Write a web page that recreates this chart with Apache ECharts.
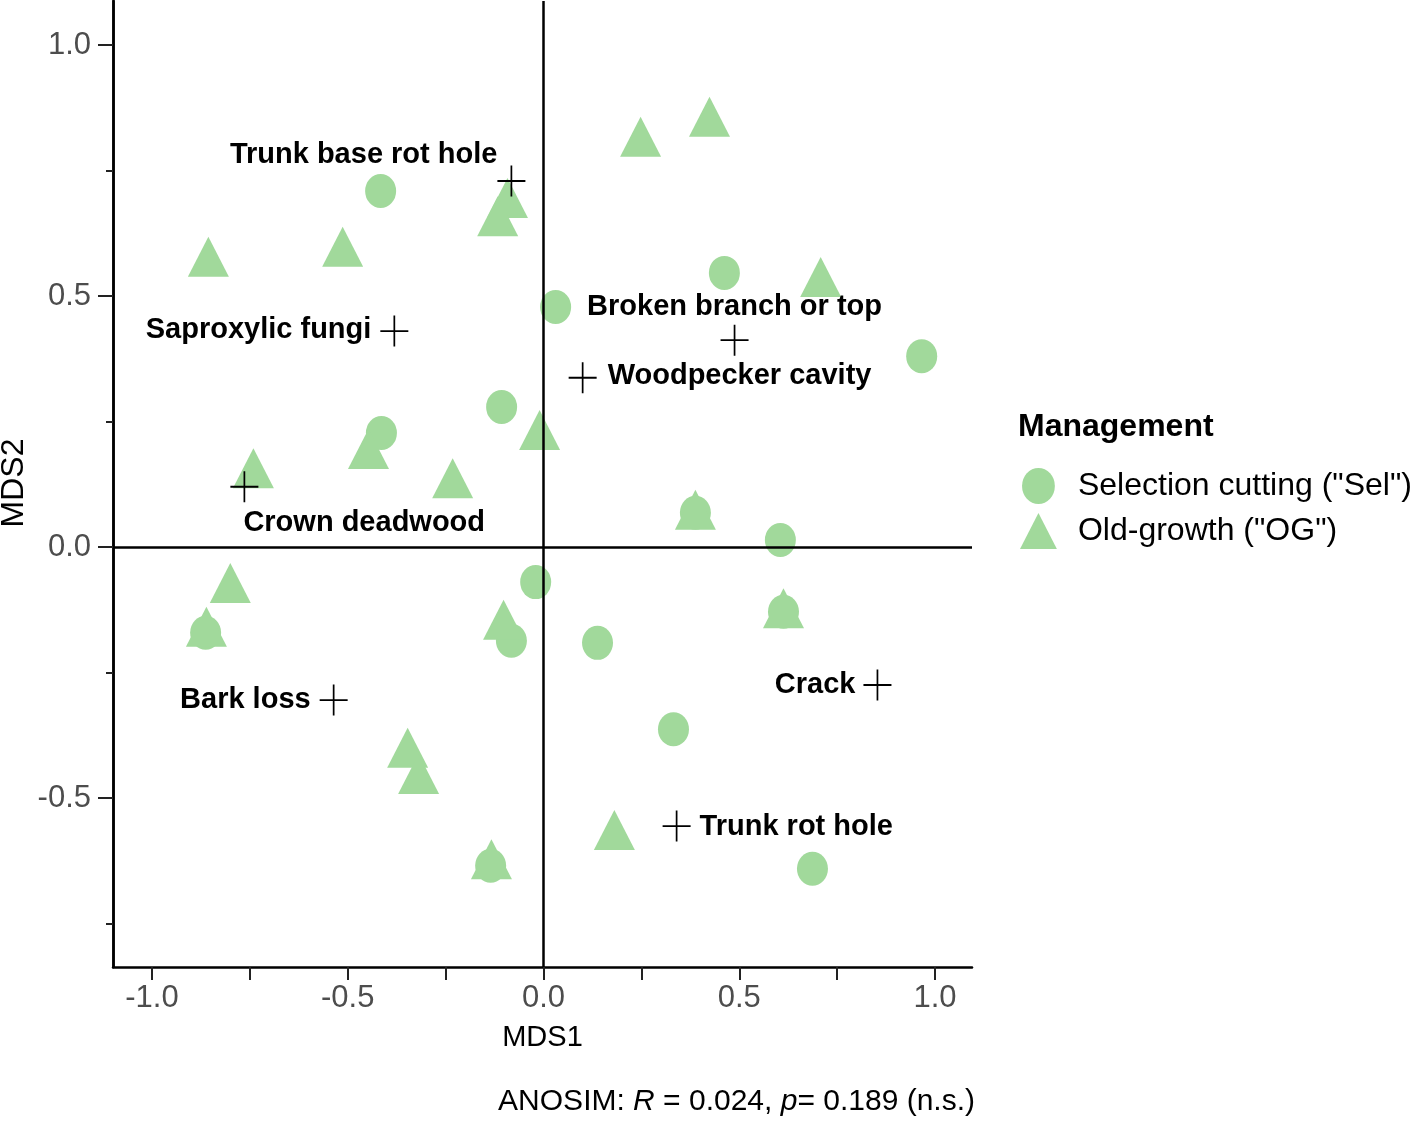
<!DOCTYPE html>
<html>
<head>
<meta charset="utf-8">
<script src="https://cdn.jsdelivr.net/npm/echarts@6/dist/echarts.min.js"></script>
<style>html,body{margin:0;padding:0;background:#fff}#c{width:1418px;height:1122px}</style>
</head>
<body>
<div id="c"></div>
<script>
// ---- data ----
const selX = [-0.416, 0.462, 0.031, 0.966, -0.107, -0.414, 0.388, 0.605, -0.020, -0.863, -0.082, 0.138, 0.613, 0.332, -0.135, 0.687];
const selY = [0.709, 0.546, 0.478, 0.380, 0.279, 0.227, 0.068, 0.014, -0.070, -0.171, -0.187, -0.191, -0.129, -0.363, -0.635, -0.641];
const ogX = [-0.856, -0.513, 0.248, 0.424, -0.092, -0.117, 0.708, -0.010, -0.741, -0.447, -0.232, 0.388, -0.800, -0.861, -0.102, 0.613, -0.347, -0.319, -0.133, 0.181];
const ogY = [0.578, 0.598, 0.817, 0.857, 0.695, 0.659, 0.538, 0.233, 0.157, 0.195, 0.137, 0.074, -0.072, -0.159, -0.145, -0.122, -0.400, -0.452, -0.622, -0.564];
const vecNames = ['Trunk base rot hole', 'Saproxylic fungi', 'Broken branch or top', 'Woodpecker cavity', 'Crown deadwood', 'Bark loss', 'Crack', 'Trunk rot hole'];
const vecX = [-0.082, -0.381, 0.488, 0.100, -0.764, -0.536, 0.853, 0.340];
const vecY = [0.729, 0.430, 0.412, 0.337, 0.120, -0.305, -0.275, -0.556];
const seriesNames = ['Selection cutting ("Sel")', 'Old-growth ("OG")'];
const xTickValues = [-1, -0.75, -0.5, -0.25, 0, 0.25, 0.5, 0.75, 1];
const xLabelValues = [-1, -0.5, 0, 0.5, 1];
const yMajorValues = [-0.5, 0, 0.5, 1];
const yMinorValues = [-0.75, -0.25, 0.25, 0.75];

// ---- styling / layout ----
const GREEN = '#A1D99B';
const FONT = '"Liberation Sans", Arial, sans-serif';
const labelPlacement = [
  {align: 'right', offset: [-14, -26]},
  {align: 'right', offset: [-23, -1]},
  {align: 'center', offset: [0, -33]},
  {align: 'left', offset: [25, -2]},
  {align: 'left', offset: [-1, 36]},
  {align: 'right', offset: [-23, 0]},
  {align: 'right', offset: [-22, 0]},
  {align: 'left', offset: [23, 1]}
];
const zip = (a, b) => a.map((v, i) => [v, b[i]]);
const fmt = v => (Math.abs(v) < 1e-9 ? 0 : v).toFixed(1);
const ELLIPSE_ICON = 'path://M0,17A15.5,17,0,1,1,31,17A15.5,17,0,1,1,0,17Z';
const TRIANGLE_ICON = 'path://M20.5,0L41,40L0,40Z';

const chart = echarts.init(document.getElementById('c'), null, {renderer: 'canvas'});
const yAxisBase = {
  type: 'value', min: -0.8367, max: 1.0876, position: 'left',
  axisLine: {show: true, onZero: false, lineStyle: {color: '#000', width: 2.5}},
  splitLine: {show: false}
};
chart.setOption({
  animation: false,
  backgroundColor: '#fff',
  textStyle: {fontFamily: FONT},
  grid: {left: 113, right: 446, top: 1, bottom: 155, containLabel: false, outerBoundsMode: 'none'},
  xAxis: {
    type: 'value', min: -1.0996, max: 1.0945,
    axisLine: {show: true, onZero: false, lineStyle: {color: '#000', width: 2.5}},
    axisTick: {show: true, customValues: xTickValues, length: 13, lineStyle: {color: '#222', width: 2}},
    axisLabel: {show: true, customValues: xLabelValues, formatter: fmt, margin: 16, fontSize: 31, color: '#4D4D4D', fontFamily: FONT},
    splitLine: {show: false},
    name: 'MDS1', nameLocation: 'middle', nameGap: 56,
    nameTextStyle: {fontSize: 29, color: '#000', fontFamily: FONT}
  },
  yAxis: [
    Object.assign({}, yAxisBase, {
      axisTick: {show: true, customValues: yMajorValues, length: 15, lineStyle: {color: '#222', width: 2}},
      axisLabel: {show: true, customValues: yMajorValues, formatter: fmt, margin: 22, fontSize: 31, color: '#4D4D4D', fontFamily: FONT}
    }),
    Object.assign({}, yAxisBase, {
      axisTick: {show: true, customValues: yMinorValues, length: 7, lineStyle: {color: '#222', width: 2}},
      axisLabel: {show: false}
    })
  ],
  legend: {
    orient: 'vertical', left: 1020, top: 468, padding: 0,
    itemWidth: 41, itemHeight: 36, itemGap: 9,
    textStyle: {fontSize: 32, color: '#000', fontFamily: FONT, lineHeight: 36, padding: [0, 0, 0, 14]},
    data: [{name: seriesNames[0], icon: ELLIPSE_ICON}, {name: seriesNames[1], icon: TRIANGLE_ICON}]
  },
  graphic: [
    {type: 'text', x: 14, y: 483, rotation: Math.PI / 2,
     style: {text: 'MDS2', font: '32px ' + FONT, fill: '#000', align: 'center', verticalAlign: 'middle'}},
    {type: 'text', left: 1018, top: 411, style: {text: 'Management', font: 'bold 32px ' + FONT, fill: '#000'}},
    {type: 'text', right: 443, top: 1087, style: {
      text: 'ANOSIM: {i|R} = 0.024, {i|p}= 0.189 (n.s.)',
      font: '30px ' + FONT, fill: '#000',
      rich: {i: {fontStyle: 'italic', fontSize: 30, fontFamily: FONT, fill: '#000'}}
    }}
  ],
  series: [
    {
      name: seriesNames[0], type: 'scatter', symbol: 'circle', symbolSize: [31, 34],
      itemStyle: {color: GREEN, opacity: 1}, data: zip(selX, selY), z: 2
    },
    {
      name: seriesNames[1], type: 'scatter', symbol: 'triangle', symbolSize: [41, 40],
      itemStyle: {color: GREEN, opacity: 1}, data: zip(ogX, ogY), z: 2
    },
    {
      name: 'vectors', type: 'scatter', z: 3,
      symbol: 'path://M14,0L14,31M0,15.5L28,15.5', symbolSize: [28, 31],
      itemStyle: {color: 'rgba(0,0,0,0)', borderColor: '#000', borderWidth: 1.8, opacity: 1},
      data: vecNames.map((n, i) => ({
        name: n, value: [vecX[i], vecY[i]],
        label: {show: true, position: 'inside', align: labelPlacement[i].align, verticalAlign: 'middle',
                offset: labelPlacement[i].offset, formatter: '{b}',
                color: '#000', fontWeight: 'bold', fontSize: 29, fontFamily: FONT}
      })),
      label: {show: true, color: '#000', fontWeight: 'bold', fontSize: 29, fontFamily: FONT},
      emphasis: {disabled: true},
      markLine: {
        silent: true, symbol: ['none', 'none'], label: {show: false},
        lineStyle: {color: '#000', width: 2.5, type: 'solid', opacity: 1},
        data: [{xAxis: 0}, {yAxis: 0}]
      }
    }
  ]
});
</script>
</body>
</html>
